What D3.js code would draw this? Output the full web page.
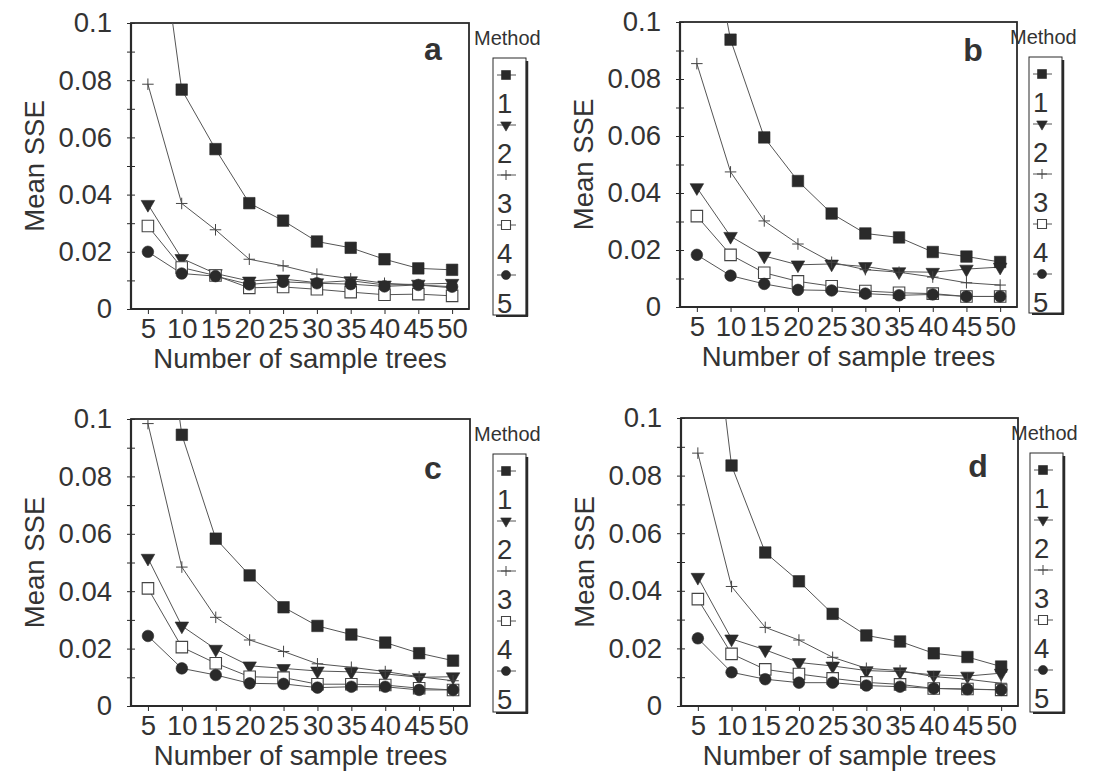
<!DOCTYPE html>
<html>
<head>
<meta charset="utf-8">
<script src="https://cdn.jsdelivr.net/npm/d3@7"></script>
<style>
  body { margin: 0; background: #fff; }
  svg { display: block; }
  text { font-family: "Liberation Sans", Arial, Helvetica, sans-serif; fill: #333; }
</style>
</head>
<body>
<svg id="chart" width="1109" height="772"></svg>
<script>
// ---------------- data ----------------
const xValues = [5, 10, 15, 20, 25, 30, 35, 40, 45, 50];
const xTickLabels = ["5", "10", "15", "20", "25", "30", "35", "40", "45", "50"];
const yTickValues = [0, 0.02, 0.04, 0.06, 0.08, 0.1];
const yTickLabels = ["0", "0.02", "0.04", "0.06", "0.08", "0.1"];
const yMinorTicks = [0, 0.01, 0.02, 0.03, 0.04, 0.05, 0.06, 0.07, 0.08, 0.09, 0.1];
const methods = ["1", "2", "3", "4", "5"];
const panelLetters = ["a", "b", "c", "d"];
const xTitle = "Number of sample trees";
const yTitle = "Mean SSE";
const legendTitle = "Method";

// Mean SSE per method (rows = methods 1..5), columns = xValues
const sseA = [
  [0.164, 0.0767, 0.0559, 0.0370, 0.0309, 0.0236, 0.0214, 0.0174, 0.0142, 0.0137],
  [0.0366, 0.0177, 0.0124, 0.0098, 0.0105, 0.0092, 0.0099, 0.0084, 0.0087, 0.0090],
  [0.0786, 0.0369, 0.0277, 0.0174, 0.0151, 0.0122, 0.0106, 0.0090, 0.0084, 0.0074],
  [0.0290, 0.0145, 0.0117, 0.0074, 0.0077, 0.0069, 0.0059, 0.0050, 0.0052, 0.0046],
  [0.0200, 0.0124, 0.0115, 0.0086, 0.0095, 0.0090, 0.0087, 0.0079, 0.0084, 0.0078]
];
const sseB = [
  [0.156, 0.0938, 0.0595, 0.0442, 0.0328, 0.0258, 0.0244, 0.0193, 0.0177, 0.0158],
  [0.0419, 0.0248, 0.0179, 0.0148, 0.0151, 0.0142, 0.0124, 0.0122, 0.0133, 0.0140],
  [0.0854, 0.0474, 0.0302, 0.0221, 0.0157, 0.0131, 0.0122, 0.0105, 0.0085, 0.0077],
  [0.0319, 0.0183, 0.0120, 0.0090, 0.0073, 0.0056, 0.0050, 0.0047, 0.0037, 0.0037],
  [0.0183, 0.0110, 0.0081, 0.0060, 0.0058, 0.0047, 0.0041, 0.0044, 0.0037, 0.0037]
];
const sseC = [
  [0.180, 0.0945, 0.0583, 0.0455, 0.0344, 0.0279, 0.0249, 0.0221, 0.0184, 0.0158],
  [0.0515, 0.0279, 0.0198, 0.0140, 0.0131, 0.0122, 0.0119, 0.0112, 0.0100, 0.0102],
  [0.0984, 0.0484, 0.0309, 0.0230, 0.0190, 0.0147, 0.0135, 0.0120, 0.0102, 0.0088],
  [0.0410, 0.0205, 0.0149, 0.0102, 0.0099, 0.0076, 0.0076, 0.0073, 0.0062, 0.0056],
  [0.0244, 0.0131, 0.0108, 0.0079, 0.0077, 0.0064, 0.0067, 0.0067, 0.0056, 0.0056]
];
const sseD = [
  [0.180, 0.0835, 0.0533, 0.0433, 0.0320, 0.0245, 0.0224, 0.0183, 0.0170, 0.0137],
  [0.0447, 0.0233, 0.0195, 0.0151, 0.0139, 0.0123, 0.0119, 0.0108, 0.0104, 0.0114],
  [0.0878, 0.0415, 0.0273, 0.0229, 0.0169, 0.0131, 0.0123, 0.0102, 0.0093, 0.0079],
  [0.0371, 0.0181, 0.0127, 0.0111, 0.0096, 0.0082, 0.0075, 0.0061, 0.0059, 0.0056],
  [0.0235, 0.0117, 0.0093, 0.0081, 0.0081, 0.0071, 0.0067, 0.0061, 0.0058, 0.0056]
];
const panelData = [sseA, sseB, sseC, sseD];

// ---------------- layout ----------------
const layouts = [
  { x0: 131, y0: 23,  x1: 469,  y1: 309, legX: 493,  letterX: 433, letterY: 60 },
  { x0: 680, y0: 22,  x1: 1017, y1: 307, legX: 1029, letterX: 973, letterY: 61 },
  { x0: 131, y0: 419, x1: 470,  y1: 706, legX: 493,  letterX: 433, letterY: 479 },
  { x0: 681, y0: 418, x1: 1018, y1: 706, legX: 1030, letterX: 978, letterY: 477 }
];

const FS = 27.5;
const ink = "#2a2a2a";
const svg = d3.select("#chart");

function symbolPath(i, size) {
  const s = size;
  if (i === 0) return d3.symbol(d3.symbolSquare, s * s)();
  if (i === 1) return d3.symbol(d3.symbolTriangle, s * s * 0.6)();
  if (i === 2) { const h = s * 0.5; return `M${-h},0H${h}M0,${-h}V${h}`; }
  if (i === 3) return d3.symbol(d3.symbolSquare, s * s)();
  return d3.symbol(d3.symbolCircle, s * s * 0.8)();
}
function styleSymbol(sel, i) {
  if (i === 0 || i === 1 || i === 4) sel.attr("fill", ink).attr("stroke", ink).attr("stroke-width", 0.6);
  else if (i === 2) sel.attr("fill", "none").attr("stroke", "#444").attr("stroke-width", 1);
  else sel.attr("fill", "#fff").attr("stroke", "#444").attr("stroke-width", 1.1);
}
function symTransform(i, x, y) {
  return i === 1 ? `translate(${x},${y}) rotate(180)` : `translate(${x},${y})`;
}

layouts.forEach((L, p) => {
  const data = panelData[p];
  const g = svg.append("g");
  const x = d3.scaleLinear().domain([2.5, 52.5]).range([L.x0, L.x1]);
  const y = d3.scaleLinear().domain([0, 0.1]).range([L.y1, L.y0]);

  const clipId = "clip" + p;
  svg.append("clipPath").attr("id", clipId)
    .append("rect").attr("x", L.x0).attr("y", L.y0).attr("width", L.x1 - L.x0).attr("height", L.y1 - L.y0);

  g.append("rect").attr("x", L.x0).attr("y", L.y0).attr("width", L.x1 - L.x0).attr("height", L.y1 - L.y0)
    .attr("fill", "none").attr("stroke", ink).attr("stroke-width", 1.8);

  const yAxisG = g.append("g").attr("transform", `translate(${L.x0},0)`)
    .call(d3.axisLeft(y).tickValues(yMinorTicks).tickSize(4).tickFormat(""));
  yAxisG.select(".domain").remove();
  yAxisG.selectAll(".tick line").attr("stroke", ink).attr("x2", 4).attr("x1", -4);
  const yLab = g.append("g").attr("transform", `translate(${L.x0},0)`)
    .call(d3.axisLeft(y).tickValues(yTickValues).tickSize(0).tickPadding(19)
      .tickFormat((d, i) => yTickLabels[i]));
  yLab.select(".domain").remove();
  yLab.selectAll("text").attr("font-size", FS).attr("fill", "#333")
    .attr("font-family", "Liberation Sans, Arial, sans-serif");

  const xAxisG = g.append("g").attr("transform", `translate(0,${L.y1})`)
    .call(d3.axisBottom(x).tickValues(xValues).tickSize(5).tickPadding(4)
      .tickFormat((d, i) => xTickLabels[i]));
  xAxisG.select(".domain").remove();
  xAxisG.selectAll(".tick line").attr("stroke", ink);
  xAxisG.selectAll("text").attr("font-size", FS).attr("fill", "#333")
    .attr("font-family", "Liberation Sans, Arial, sans-serif");

  g.append("line").attr("x1", L.x0).attr("x2", L.x0).attr("y1", L.y0).attr("y2", L.y1)
    .attr("stroke", ink).attr("stroke-width", 2.2);
  g.append("line").attr("x1", L.x0).attr("x2", L.x1).attr("y1", L.y1).attr("y2", L.y1)
    .attr("stroke", ink).attr("stroke-width", 2.2);

  g.append("text").attr("x", (L.x0 + L.x1) / 2).attr("y", L.y1 + 59)
    .attr("text-anchor", "middle").attr("font-size", FS).text(xTitle);
  g.append("text").attr("transform", `translate(${L.x0 - 87},${(L.y0 + L.y1) / 2}) rotate(-90)`)
    .attr("text-anchor", "middle").attr("font-size", FS).text(yTitle);

  g.append("text").attr("x", L.letterX).attr("y", L.letterY).attr("text-anchor", "middle")
    .attr("font-size", 32).attr("font-weight", "bold")
    .attr("font-family", "'Open Sans', 'DejaVu Sans', sans-serif").text(panelLetters[p]);

  const plot = g.append("g").attr("clip-path", `url(#${clipId})`);
  const line = d3.line().x((d, i) => x(xValues[i])).y(d => y(d));
  data.forEach((series) => {
    plot.append("path").attr("d", line(series)).attr("fill", "none")
      .attr("stroke", "#555").attr("stroke-width", 1);
  });
  data.forEach((series, m) => {
    series.forEach((v, i) => {
      if (v > 0.1) return;
      const s = plot.append("path").attr("d", symbolPath(m, 11.5))
        .attr("transform", symTransform(m, x(xValues[i]), y(v)));
      styleSymbol(s, m);
    });
  });

  const lx = L.legX, ly = L.y0 + 35, lw = 33, lh = (L.y1 + 6) - ly;
  g.append("text").attr("x", lx - 19).attr("y", L.y0 + 22).attr("font-size", 20).text(legendTitle);
  g.append("rect").attr("x", lx).attr("y", ly).attr("width", lw).attr("height", lh)
    .attr("fill", "#fff").attr("stroke", ink).attr("stroke-width", 1);
  g.append("line").attr("x1", lx + lw + 1).attr("x2", lx + lw + 1).attr("y1", ly + 3).attr("y2", ly + lh + 1.5)
    .attr("stroke", ink).attr("stroke-width", 2.5);
  g.append("line").attr("x1", lx + 3).attr("x2", lx + lw + 2).attr("y1", ly + lh + 1).attr("y2", ly + lh + 1)
    .attr("stroke", ink).attr("stroke-width", 2);
  methods.forEach((name, m) => {
    const cy = ly + 17 + m * 50;
    const cx = lx + 13;
    g.append("line").attr("x1", lx + 4).attr("x2", lx + 23).attr("y1", cy).attr("y2", cy)
      .attr("stroke", "#555").attr("stroke-width", 1);
    const s = g.append("path").attr("d", symbolPath(m, m === 2 ? 10 : 9))
      .attr("transform", symTransform(m, cx, cy));
    styleSymbol(s, m);
    g.append("text").attr("x", lx + 4).attr("y", cy + 38).attr("font-size", FS).text(name);
  });
});
</script>
</body>
</html>
